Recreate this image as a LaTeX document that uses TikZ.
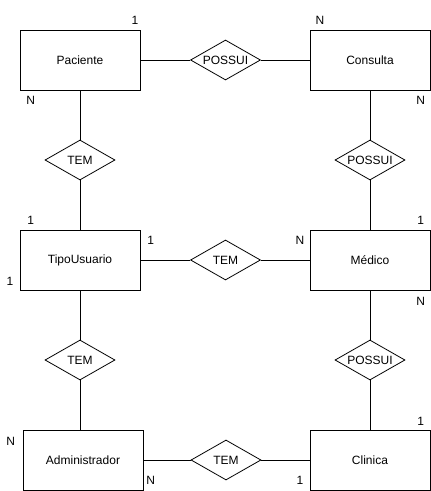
\documentclass[tikz,border=0pt]{standalone}
\usepackage{fontspec}
\setmainfont{Liberation Sans}
\usetikzlibrary{shapes.geometric}
\begin{document}
\begin{tikzpicture}[x=1pt,y=-1pt,
  every node/.style={font=\fontsize{12}{14}\selectfont},
  entite/.style={draw,line width=1pt,minimum width=120pt,minimum height=60pt,inner sep=0pt},
  relation/.style={draw,diamond,aspect=1.75,line width=0.8pt,minimum width=70pt,minimum height=40pt,inner sep=0pt},
  card/.style={inner sep=0pt}]
\useasboundingbox (0,0) rectangle (431,491);
% les entites
\node[entite] (pac)   at (80,60)   {Paciente};
\node[entite] (cons)  at (370,60)  {Consulta};
\node[entite] (tipo)  at (80,260)  {TipoUsuario};
\node[entite] (med)   at (370,260) {Médico};
\node[entite] (admin) at (83,460)  {Administrador};
\node[entite] (clin)  at (370,460) {Clinica};
% les relations
\node[relation] (possuiA) at (225.5,60)  {POSSUI};
\node[relation] (temA)    at (80,160)    {TEM};
\node[relation] (possuiB) at (370,160)   {POSSUI};
\node[relation] (temB)    at (225.5,260) {TEM};
\node[relation] (temC)    at (80,360)    {TEM};
\node[relation] (possuiC) at (370,360)   {POSSUI};
\node[relation] (temD)    at (226,460)   {TEM};
% les liens
\draw[line width=1pt] (pac) -- (possuiA) -- (cons);
\draw[line width=1pt] (pac) -- (temA) -- (tipo);
\draw[line width=1pt] (cons) -- (possuiB) -- (med);
\draw[line width=1pt] (tipo) -- (temB) -- (med);
\draw[line width=1pt] (tipo) -- (temC.north);
\draw[line width=1pt] (temC.south) -- (temC.south |- admin.north);
\draw[line width=1pt] (med) -- (possuiC) -- (clin);
\draw[line width=1pt] (admin.east |- temD) -- (temD) -- (clin);
% les cardinalites
\node[card] (c1)  at (135,20)    {1};
\node[card] (c2)  at (320,20)    {N};
\node[card] (c3)  at (30.7,100)  {N};
\node[card] (c4)  at (420.7,100) {N};
\node[card] (c5)  at (30.7,220)  {1};
\node[card] (c6)  at (420.7,220) {1};
\node[card] (c7)  at (150.7,240) {1};
\node[card] (c8)  at (300,240)   {N};
\node[card] (c9)  at (10,281.7)  {1};
\node[card] (c10) at (420.7,301.7) {N};
\node[card] (c11) at (420.7,421.7) {1};
\node[card] (c12) at (10.7,441.7) {N};
\node[card] (c13) at (150.7,480) {N};
\node[card] (c14) at (300,480)   {1};
\end{tikzpicture}
\end{document}
